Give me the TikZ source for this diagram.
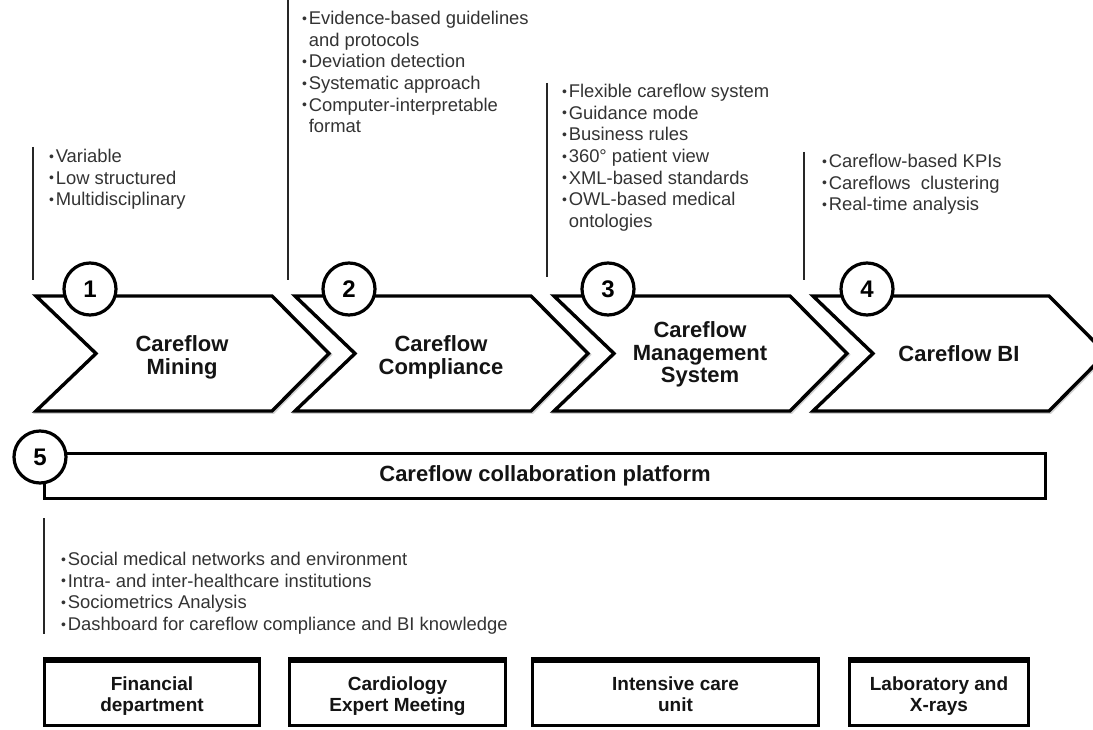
\documentclass[tikz,border=0pt]{standalone}
\usepackage{fontspec}
\setmainfont{Liberation Sans}
\newcommand\mybul{\makebox[6.6pt][l]{\raisebox{1.2pt}{\fontsize{14}{14}\selectfont •}}}
\newcommand\myind{\hspace*{6.6pt}}
\begin{document}
\begin{tikzpicture}[x=1pt,y=-1pt,
  chev/.style={draw=black, fill=white, line width=3.4pt, line join=miter, miter limit=10},
  shad/.style={draw=black!18, line width=3.4pt, line join=miter, miter limit=10},
  num/.style={circle, draw=black, fill=white, line width=3.2pt, minimum size=52pt, inner sep=0pt, font=\fontsize{24}{24}\selectfont\bfseries},
  lab/.style={align=center, inner sep=0pt, font=\fontsize{22}{22.5}\selectfont\bfseries, text=black!92},
  info/.style={anchor=north west, inner sep=0pt, align=left, font=\fontsize{18.4}{21.7}\selectfont, text=black!80},
  vline/.style={draw=black!85, line width=1.4pt},
  boxst/.style={draw=black, fill=white, line width=3.4pt, inner sep=0pt},
  boxtop/.style={draw=black, line width=4.6pt},
  boxtxt/.style={align=center, inner sep=0pt, font=\fontsize{19}{21}\selectfont\bfseries, text=black!92}
]
\useasboundingbox[fill=white] (0,0) rectangle (1093,730);

% vertical guide lines
\coordinate (v1a) at (33,147);  \coordinate (v1b) at (33,280);
\coordinate (v2a) at (288,0);   \coordinate (v2b) at (288,280);
\coordinate (v3a) at (547,83);  \coordinate (v3b) at (547,277);
\coordinate (v4a) at (804,152); \coordinate (v4b) at (804,280);
\coordinate (v5a) at (44,518);  \coordinate (v5b) at (44,634);
\draw[vline] (v1a) -- (v1b);
\draw[vline] (v2a) -- (v2b);
\draw[vline] (v3a) -- (v3b);
\draw[vline] (v4a) -- (v4b);
\draw[vline] (v5a) -- (v5b);

% bullet lists
\node[info] (t1) at (49,148.8) {\mybul Variable\\ \mybul Low structured\\ \mybul Multidisciplinary};
\node[info] (t2) at (302,10.8) {\mybul Evidence-based guidelines\\ \myind and protocols\\ \mybul Deviation detection\\ \mybul Systematic approach\\ \mybul Computer-interpretable\\ \myind format};
\node[info] (t3) at (562,83.8) {\mybul Flexible careflow system\\ \mybul Guidance mode\\ \mybul Business rules\\ \mybul 360° patient view\\ \mybul XML-based standards\\ \mybul OWL-based medical\\ \myind ontologies};
\node[info] (t4) at (822,153.8) {\mybul Careflow-based KPIs\\ \mybul Careflows\ \ clustering\\ \mybul Real-time analysis};
\node[info] (t5) at (61,551.8) {\mybul Social medical networks and environment\\ \mybul Intra- and inter-healthcare institutions\\ \mybul Sociometrics Analysis\\ \mybul Dashboard for careflow compliance and BI knowledge};

% chevrons
\foreach \L/\n/\ly/\txt in {36/1/357.5/{Careflow\\Mining}, 295/2/357.5/{Careflow\\Compliance}, 554/3/354.5/{Careflow\\Management\\System}, 813/4/353.5/{Careflow BI}}{
  \draw[shad] ([shift={(1.2,1.2)}]\L,296) -- ++(236,0) -- ++(57,57.5) -- ++(-57,57.5) -- ++(-236,0) -- ++(60,-57.5) -- cycle;
  \draw[chev] (\L,296) -- ++(236,0) -- ++(57,57.5) -- ++(-57,57.5) -- ++(-236,0) -- ++(60,-57.5) -- cycle;
  \node[lab] (lab\n) at (\L+146,\ly) {\txt};
  \node[num] (num\n) at (\L+54,289) {\n};
}

% collaboration platform
\node[boxst, minimum width=1000.6pt, minimum height=44.6pt] (bar) at (545,476) {};
\node[lab] (bartxt) at (545,476) {Careflow collaboration platform};
\node[num] (num5) at (40,457) {5};

% bottom boxes
\node[boxst, minimum width=214.6pt, minimum height=63.6pt] (b1) at (152,693.5) {};
\node[boxst, minimum width=215.6pt, minimum height=63.6pt] (b2) at (397.5,693.5) {};
\node[boxst, minimum width=285.6pt, minimum height=63.6pt] (b3) at (675.5,693.5) {};
\node[boxst, minimum width=178.6pt, minimum height=63.6pt] (b4) at (939,693.5) {};
\foreach \b in {b1,b2,b3,b4}{
  \draw[boxtop] ([yshift=0.6pt]\b.north west) -- ([yshift=0.6pt]\b.north east);
}
\node[boxtxt] (bt1) at ([yshift=-3pt]b1.center) {Financial\\department};
\node[boxtxt] (bt2) at ([yshift=-3pt]b2.center) {Cardiology\\Expert Meeting};
\node[boxtxt] (bt3) at ([yshift=-3pt]b3.center) {Intensive care\\unit\vphantom{p}};
\node[boxtxt] (bt4) at ([yshift=-3pt]b4.center) {Laboratory and\\X-rays};
\end{tikzpicture}
\end{document}
